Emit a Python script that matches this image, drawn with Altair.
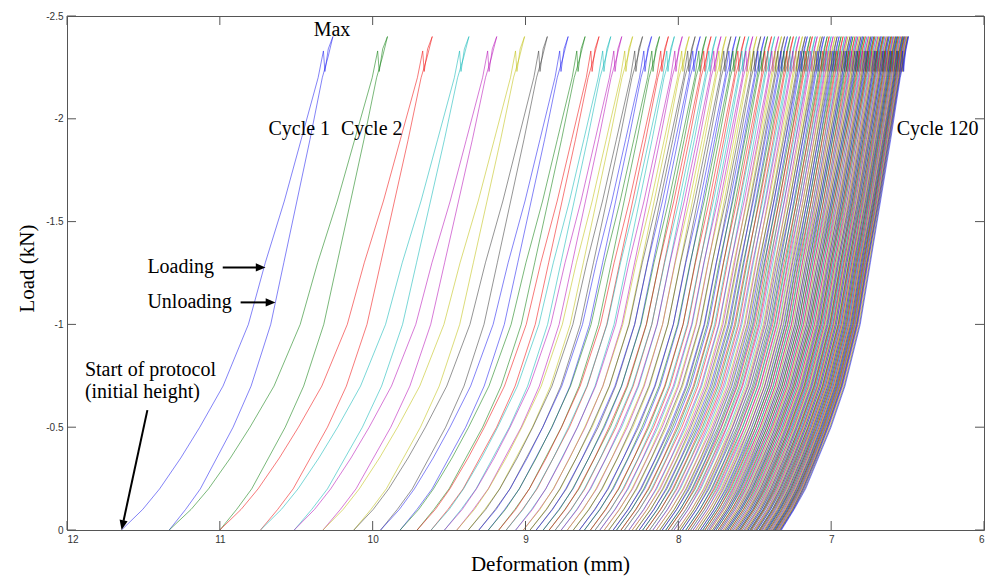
import altair as alt
import pandas as pd

# ---------------- data ----------------
# Deformation (mm) at the maximum load of each of the 120 cycles
PEAK_DEFORMATION = [
    10.260, 9.903, 9.610, 9.370, 9.188, 9.006, 8.857, 8.721, 8.610, 8.519,
    8.442, 8.370, 8.299, 8.234, 8.175, 8.123, 8.065, 8.026, 7.974, 7.929,
    7.890, 7.857, 7.818, 7.786, 7.753, 7.721, 7.688, 7.656, 7.623, 7.597,
    7.565, 7.539, 7.513, 7.487, 7.461, 7.435, 7.416, 7.390, 7.370, 7.344,
    7.325, 7.305, 7.286, 7.266, 7.247, 7.227, 7.208, 7.188, 7.169, 7.156,
    7.136, 7.123, 7.104, 7.091, 7.071, 7.058, 7.045, 7.026, 7.013, 7.000,
    6.987, 6.974, 6.961, 6.948, 6.935, 6.922, 6.909, 6.899, 6.890, 6.877,
    6.867, 6.857, 6.844, 6.834, 6.825, 6.815, 6.805, 6.795, 6.786, 6.776,
    6.766, 6.756, 6.747, 6.740, 6.731, 6.721, 6.714, 6.705, 6.695, 6.688,
    6.679, 6.672, 6.662, 6.656, 6.649, 6.640, 6.633, 6.627, 6.620, 6.610,
    6.604, 6.597, 6.591, 6.584, 6.578, 6.571, 6.565, 6.558, 6.552, 6.545,
    6.539, 6.534, 6.529, 6.523, 6.518, 6.513, 6.508, 6.503, 6.498, 6.494,
]
# Deformation travelled during loading of each cycle (start at zero load -> max)
LOADING_SPAN = [
    1.383, 1.428, 1.390, 1.364, 1.325, 1.319, 1.266, 1.227, 1.210, 1.190,
    1.175, 1.160, 1.150, 1.140, 1.130, 1.120, 1.110, 1.100, 1.090, 1.085,
    1.080, 1.073, 1.066, 1.059, 1.052, 1.045, 1.038, 1.031, 1.024, 1.017,
    1.010, 1.005, 1.000, 0.997, 0.994, 0.991, 0.988, 0.985, 0.982, 0.979,
    0.976, 0.973, 0.970, 0.967, 0.964, 0.961, 0.958, 0.955, 0.952, 0.949,
    0.946, 0.943, 0.940, 0.937, 0.934, 0.931, 0.928, 0.925, 0.922, 0.919,
    0.916, 0.913, 0.910, 0.907, 0.905, 0.904, 0.903, 0.901, 0.900, 0.899,
    0.898, 0.896, 0.895, 0.894, 0.893, 0.891, 0.890, 0.889, 0.888, 0.886,
    0.885, 0.884, 0.883, 0.881, 0.880, 0.879, 0.878, 0.876, 0.875, 0.874,
    0.873, 0.871, 0.870, 0.869, 0.868, 0.866, 0.865, 0.864, 0.863, 0.861,
    0.860, 0.859, 0.858, 0.856, 0.855, 0.854, 0.853, 0.851, 0.850, 0.849,
    0.848, 0.846, 0.845, 0.844, 0.843, 0.841, 0.840, 0.839, 0.838, 0.836,
]
FINAL_UNLOAD_END = 7.325

# Shape of one loading branch (load level, share of the way from start to max)
LOADING_LOAD = [0, -0.1, -0.2, -0.35, -0.5, -0.7, -1.0, -1.3, -1.6, -1.9, -2.2, -2.33, -2.23, -2.34, -2.4]
LOADING_SHARE = [0, 0.10, 0.18, 0.28, 0.37, 0.48, 0.60, 0.68, 0.77, 0.85, 0.93, 0.955, 0.962, 0.978, 1.0]
# Shape of one unloading branch (load level, share of the way from end to max)
UNLOADING_LOAD = [-2.4, -2.3, -2.2, -1.9, -1.6, -1.3, -1.0, -0.7, -0.5, -0.35, -0.2, -0.1, 0]
UNLOADING_SHARE = [1.0, 0.97, 0.935, 0.86, 0.78, 0.70, 0.62, 0.50, 0.39, 0.29, 0.19, 0.10, 0]

COLOR_NAMES = ["b", "g", "r", "c", "m", "y", "k"]
COLOR_VALUES = ["#2020f0", "#108010", "#f01010", "#10b8b8", "#b810b8", "#c0c010", "#404040"]

X_TICKS = [12, 11, 10, 9, 8, 7, 6]
Y_TICKS = [0, -0.5, -1, -1.5, -2, -2.5]

# ---------------- build the table ----------------
starts = [p + s for p, s in zip(PEAK_DEFORMATION, LOADING_SPAN)] + [FINAL_UNLOAD_END]
rows = []
for i, peak in enumerate(PEAK_DEFORMATION):
    s0, s1 = starts[i], starts[i + 1]
    step = 0
    for load, share in zip(LOADING_LOAD, LOADING_SHARE):
        rows.append({"cycle": i + 1, "step": step, "deformation": s0 - (s0 - peak) * share,
                     "load": load, "colour": COLOR_NAMES[i % 7]})
        step += 1
    for load, share in zip(UNLOADING_LOAD, UNLOADING_SHARE):
        rows.append({"cycle": i + 1, "step": step, "deformation": s1 - (s1 - peak) * share,
                     "load": load, "colour": COLOR_NAMES[i % 7]})
        step += 1
curves = pd.DataFrame(rows)

W, H = 917, 514
TL = 9  # inward tick length

xscale = alt.Scale(domain=[6, 12], reverse=True, nice=False, zero=False)
yscale = alt.Scale(domain=[-2.5, 0], reverse=True, nice=False, zero=False)

X_AXIS = alt.Axis(values=X_TICKS, labelExpr="'' + datum.value", grid=False, ticks=False,
                  tickSize=0, domain=False, labelFont="Liberation Sans", labelFontSize=10,
                  labelColor="#333333", labelPadding=4, title="Deformation (mm)",
                  titleFont="Liberation Serif", titleFontSize=21, titleFontWeight="normal",
                  titleColor="#000000", titleX=483, titleY=40, titleAlign="center",
                  titleBaseline="alphabetic")
Y_AXIS = alt.Axis(values=Y_TICKS, labelExpr="'' + datum.value", grid=False, ticks=False,
                  tickSize=0, domain=False, labelFont="Liberation Sans", labelFontSize=10,
                  labelColor="#333333", labelPadding=4, title="Load (kN)",
                  titleFont="Liberation Serif", titleFontSize=21, titleFontWeight="normal",
                  titleColor="#000000", titleAngle=270, titleX=-34, titleY=252,
                  titleAlign="center", titleBaseline="alphabetic")


def X(field):
    return alt.X(field, type="quantitative", scale=xscale, axis=X_AXIS)


def Y(field):
    return alt.Y(field, type="quantitative", scale=yscale, axis=Y_AXIS)


lines = alt.Chart(curves).mark_line(strokeWidth=0.7, opacity=0.8, clip=True).encode(
    x=X("deformation"),
    y=Y("load"),
    color=alt.Color("colour:N", scale=alt.Scale(domain=COLOR_NAMES, range=COLOR_VALUES), legend=None),
    detail="cycle:N",
    order="step:Q",
)

xt = pd.DataFrame({"deformation": X_TICKS})
yt = pd.DataFrame({"load": Y_TICKS})
tick_style = dict(color="#555555", strokeWidth=1)
xb = alt.Chart(xt).mark_rule(**tick_style).encode(x=X("deformation"), y=alt.value(H), y2=alt.value(H - TL))
xtop = alt.Chart(xt).mark_rule(**tick_style).encode(x=X("deformation"), y=alt.value(0), y2=alt.value(TL))
yl = alt.Chart(yt).mark_rule(**tick_style).encode(y=Y("load"), x=alt.value(0), x2=alt.value(TL))
yr = alt.Chart(yt).mark_rule(**tick_style).encode(y=Y("load"), x=alt.value(W), x2=alt.value(W - TL))

# ---------------- annotations ----------------
notes = pd.DataFrame({
    "label": ["Cycle 1", "Cycle 2", "Cycle 120", "Loading", "Unloading",
              "Start of protocol", "(initial height)"],
    "deformation": [10.682, 10.208, 6.571, 11.474, 11.474, 11.883, 11.883],
    "load": [-1.922, -1.922, -1.922, -1.252, -1.078, -0.748, -0.641],
})
max_note = pd.DataFrame({"label": ["Max"], "deformation": [10.266], "load": [-2.403]})
text_style = dict(font="Liberation Serif", fontSize=20, color="#000000", baseline="alphabetic")
note_layer = alt.Chart(notes).mark_text(align="left", **text_style).encode(
    x=X("deformation"), y=Y("load"), text="label:N")
max_layer = alt.Chart(max_note).mark_text(align="center", **text_style).encode(
    x=X("deformation"), y=Y("load"), text="label:N")

shafts = pd.DataFrame({
    "x0": [10.981, 10.864, 11.474], "x1": [10.740, 10.675, 11.630],
    "y0": [-1.277, -1.107, -0.583], "y1": [-1.277, -1.107, -0.045],
})
heads = pd.DataFrame({"deformation": [10.701, 10.636, 11.643], "load": [-1.277, -1.107, 0.0],
                      "angle": [270, 270, 12]})
shaft_layer = alt.Chart(shafts).mark_rule(color="#000000", strokeWidth=2).encode(
    x=X("x0"), x2="x1", y=Y("y0"), y2="y1")
head_layer = alt.Chart(heads).mark_point(
    shape="M0,0L-0.42,-1L0.42,-1Z", filled=True, size=380, color="#000000", opacity=1, strokeWidth=0
).encode(x=X("deformation"), y=Y("load"), angle=alt.Angle("angle:Q", scale=None))

chart = alt.layer(lines, xb, xtop, yl, yr, note_layer, max_layer, shaft_layer, head_layer).properties(
    width=W, height=H,
    autosize=alt.AutoSizeParams(type="none"),
    padding={"left": 59, "top": 8, "right": 1, "bottom": 47},
    background="#ffffff",
).configure_view(stroke="#555555", strokeWidth=1)

chart.save("out.html", embed_options={"renderer": "svg", "actions": False})
